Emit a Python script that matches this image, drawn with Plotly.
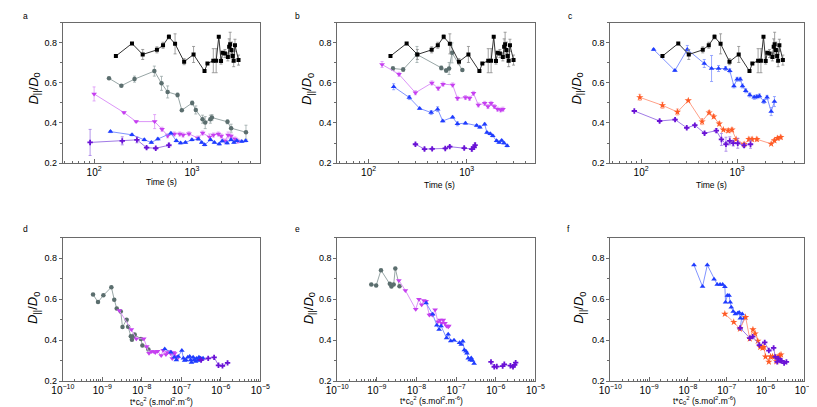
import plotly.graph_objects as go

W, H = 817, 407

# ---------------- top row data: time (s) vs D||/D0 ----------------
# reference (black squares) - identical in panels a, b, c
ref_t = [167, 244, 314, 439, 507, 582, 673, 833, 1040, 1346, 1442, 1655, 1771, 1883, 1986,
         2064, 2177, 2332, 2405, 2461, 2537, 2615, 2676, 2757, 2998]
ref_d = [0.734, 0.797, 0.742, 0.765, 0.788, 0.830, 0.795, 0.706, 0.742, 0.659, 0.697, 0.711,
         0.711, 0.830, 0.709, 0.750, 0.747, 0.730, 0.780, 0.793, 0.764, 0.735, 0.711, 0.788, 0.714]
ref_e = [0.0, 0.005, 0.025, 0.015, 0.015, 0.01, 0.05, 0.015, 0.04, 0.0, 0.0, 0.06, 0.06, 0.0,
         0.015, 0.0, 0.02, 0.02, 0.04, 0.06, 0.04, 0.03, 0.03, 0.03, 0.025]

# panel a
a_gray_t = [142, 190, 259, 413, 489, 565, 714, 789, 1007, 1096, 1285, 1368, 1545, 1603, 2312, 2518, 3573]
a_gray_d = [0.623, 0.586, 0.619, 0.659, 0.598, 0.555, 0.540, 0.464, 0.500, 0.465, 0.419, 0.402,
            0.419, 0.427, 0.406, 0.374, 0.354]
a_gray_e = [0.0, 0.0, 0.015, 0.025, 0.035, 0.03, 0.01, 0.0, 0.01, 0.02, 0.02, 0.03, 0.02, 0.015,
            0.01, 0.02, 0.035]
a_mag_t = [100, 202, 269, 416, 495, 565, 661, 752, 813, 933, 1148, 1288, 1514, 1660, 1862, 1995,
           2188, 2344, 2512, 2754, 2951]
a_mag_d = [0.545, 0.452, 0.407, 0.407, 0.369, 0.336, 0.345, 0.345, 0.340, 0.346, 0.325, 0.350,
           0.330, 0.340, 0.345, 0.335, 0.310, 0.340, 0.335, 0.320, 0.310]
a_mag_e = [0.035, 0.005, 0.005, 0.035, 0.01, 0.01, 0.01, 0.01, 0.01, 0.01, 0.01, 0.01, 0.015,
           0.01, 0.01, 0.01, 0.01, 0.015, 0.01, 0.01, 0.01]
a_blue_t = [147, 244, 326, 385, 449, 610, 693, 766, 859, 1000, 1164, 1259, 1349, 1549, 1698, 1905,
            2042, 2291, 2512, 2692, 2884, 3236, 3548]
a_blue_d = [0.357, 0.341, 0.316, 0.303, 0.320, 0.349, 0.311, 0.300, 0.303, 0.316, 0.320, 0.303,
            0.291, 0.316, 0.303, 0.295, 0.310, 0.300, 0.316, 0.303, 0.311, 0.308, 0.311]
a_blue_e = [0.005] * 23
a_pur_t = [91, 194, 274, 344, 427, 582]
a_pur_d = [0.303, 0.311, 0.316, 0.277, 0.274, 0.289]
a_pur_e = [0.065, 0.02, 0.015, 0.005, 0.005, 0.01]

# panel b
b_gray_t = [177, 225, 311, 550, 617, 661, 708, 902]
b_gray_d = [0.672, 0.667, 0.742, 0.675, 0.662, 0.672, 0.750, 0.664]
b_gray_e = [0.01, 0.01, 0.04, 0.01, 0.01, 0.03, 0.05, 0.005]
b_mag_t = [137, 204, 300, 441, 512, 573, 718, 804, 970, 1069, 1172, 1312, 1524, 1644, 1770, 1910,
           2061, 2218, 2339]
b_mag_d = [0.692, 0.643, 0.551, 0.600, 0.573, 0.594, 0.590, 0.523, 0.527, 0.523, 0.548, 0.490,
           0.498, 0.482, 0.498, 0.482, 0.469, 0.465, 0.469]
b_mag_e = [0.015] + [0.01] * 18
b_blue_t = [180, 260, 331, 434, 505, 569, 718, 804, 970, 1262, 1361, 1524, 1607, 1734, 1841, 2014,
            2138, 2270, 2393, 2582]
b_blue_d = [0.581, 0.527, 0.473, 0.452, 0.469, 0.410, 0.429, 0.396, 0.399, 0.387, 0.379, 0.394,
            0.352, 0.346, 0.336, 0.311, 0.303, 0.313, 0.300, 0.286]
b_blue_e = [0.015, 0.01, 0.005, 0.01, 0.012, 0.005, 0.005, 0.01, 0.005, 0.005, 0.005, 0.005,
            0.005, 0.005, 0.005, 0.005, 0.005, 0.005, 0.005, 0.005]
b_pur_t = [300, 371, 444, 604, 671, 942, 1127, 1189, 1216]
b_pur_d = [0.294, 0.270, 0.271, 0.273, 0.282, 0.275, 0.270, 0.279, 0.290]
b_pur_e = [0.005, 0.005, 0.005, 0.005, 0.005, 0.005, 0.01, 0.01, 0.01]

# panel c
c_blue_t = [135, 225, 303, 455, 542, 641, 759, 839, 927, 1000, 1079, 1138, 1230, 1358, 1510, 1607,
            1710, 1901, 2051, 2265, 2449]
c_blue_d = [0.767, 0.662, 0.767, 0.697, 0.672, 0.672, 0.672, 0.661, 0.585, 0.618, 0.618, 0.585,
            0.561, 0.540, 0.528, 0.531, 0.535, 0.507, 0.528, 0.457, 0.507]
c_blue_e = [0.005, 0.005, 0.02, 0.02, 0.065, 0.015, 0.01, 0.01, 0.01, 0.01, 0.01, 0.01, 0.01,
            0.01, 0.01, 0.01, 0.01, 0.01, 0.01, 0.02, 0.025]
c_orng_t = [97, 167, 239, 310, 432, 511, 571, 652, 719, 807, 885, 977, 1183, 1327, 1432, 1607,
            2265, 2449, 2642, 2851]
c_orng_d = [0.528, 0.488, 0.455, 0.512, 0.407, 0.452, 0.432, 0.396, 0.366, 0.362, 0.366, 0.319,
            0.294, 0.319, 0.319, 0.319, 0.296, 0.313, 0.324, 0.329]
c_orng_e = [0.015, 0.015, 0.015, 0.0, 0.015, 0.01, 0.01, 0.01, 0.0, 0.01, 0.01, 0.0, 0.01, 0.01,
            0.01, 0.01, 0.0, 0.01, 0.01, 0.01]
c_pur_t = [85, 156, 226, 299, 363, 458, 608, 687, 766, 839, 912, 1016, 1183, 1380]
c_pur_d = [0.460, 0.410, 0.417, 0.376, 0.389, 0.349, 0.362, 0.318, 0.294, 0.311, 0.300, 0.299,
           0.288, 0.294]
c_pur_e = [0.0, 0.005, 0.005, 0.005, 0.005, 0.005, 0.01, 0.03, 0.035, 0.02, 0.015, 0.025, 0.01, 0.02]

# ---------------- bottom row data: t*c0^2 vs D||/D0 ----------------
d_gray_x = [5.82e-10, 7.78e-10, 1.064e-9, 1.694e-9, 2.004e-9, 2.317e-9, 2.931e-9, 3.236e-9,
            4.13e-9, 4.50e-9, 5.27e-9, 5.61e-9, 6.34e-9, 6.58e-9, 9.48e-9, 1.033e-8, 1.466e-8]
d_mag_x = [2.69e-9, 5.43e-9, 7.24e-9, 1.12e-8, 1.33e-8, 1.52e-8, 1.78e-8, 2.02e-8, 2.19e-8,
           2.51e-8, 3.09e-8, 3.47e-8, 4.07e-8, 4.47e-8, 5.01e-8, 5.37e-8, 5.89e-8, 6.31e-8,
           6.76e-8, 7.41e-8, 7.94e-8]
d_blue_x = [3.80e-8, 5.43e-8, 6.65e-8, 7.48e-8, 8.34e-8, 1.03e-7, 1.13e-7, 1.21e-7, 1.31e-7,
            1.46e-7, 1.63e-7, 1.72e-7, 1.80e-7, 1.99e-7, 2.12e-7, 2.30e-7, 2.41e-7, 2.61e-7,
            2.79e-7, 2.92e-7, 3.07e-7, 3.33e-7, 3.55e-7]
d_pur_x = [3.16e-7, 4.79e-7, 6.76e-7, 8.71e-7, 1.10e-6, 1.48e-6]

e_gray_x = [7.23e-10, 9.59e-10, 1.27e-9, 2.12e-9, 2.33e-9, 2.65e-9, 2.92e-9, 3.72e-9]
e_mag_x = [3.59e-9, 5.24e-9, 9.55e-9, 1.15e-8, 1.35e-8, 1.53e-8, 1.74e-8, 2.11e-8, 2.34e-8,
           2.55e-8, 2.95e-8, 3.44e-8, 3.93e-8, 4.32e-8, 4.74e-8, 5.21e-8, 5.73e-8, 6.31e-8, 6.53e-8]
e_blue_x = [1.75e-8, 2.55e-8, 3.25e-8, 3.72e-8, 4.16e-8, 5.73e-8, 6.30e-8, 7.31e-8, 8.83e-8,
            1.22e-7, 1.34e-7, 1.47e-7, 1.61e-7, 1.77e-7, 1.87e-7, 2.02e-7, 2.26e-7, 2.40e-7,
            2.58e-7, 2.84e-7]
e_pur_x = [7.57e-7, 9.14e-7, 1.06e-6, 1.49e-6, 1.64e-6, 2.34e-6, 2.72e-6, 2.99e-6, 3.17e-6]

f_blue_x = [1.43e-8, 2.38e-8, 3.16e-8, 4.71e-8, 5.69e-8, 6.75e-8, 7.85e-8, 8.95e-8, 9.33e-8,
            1.04e-7, 1.15e-7, 1.23e-7, 1.31e-7, 1.47e-7, 1.67e-7, 1.91e-7, 2.09e-7, 2.24e-7,
            2.51e-7, 2.22e-7, 2.82e-7]
f_orng_x = [8.95e-8, 1.52e-7, 2.19e-7, 3.07e-7, 3.93e-7, 4.74e-7, 5.42e-7, 6.31e-7, 7.33e-7,
            8.38e-7, 9.12e-7, 1.0e-6, 1.22e-6, 1.35e-6, 1.51e-6, 1.70e-6, 1.91e-6, 2.09e-6,
            2.29e-6, 2.51e-6]
f_pur_x = [2.22e-7, 3.93e-7, 4.68e-7, 6.93e-7, 9.55e-7, 1.22e-6, 1.62e-6, 1.79e-6, 2.0e-6,
           2.16e-6, 2.40e-6, 2.61e-6, 3.02e-6, 3.46e-6]

panel_letters = ["a", "b", "c", "d", "e", "f"]
y_ticks = [0.2, 0.4, 0.6, 0.8]

# ---------------- styles ----------------
STY = {
    "black": dict(symbol="square", color="#000000", line="#333333", err="#8a8a8a", size=4),
    "gray": dict(symbol="circle", color="#5b6e6e", line="#98a6a6", err="#9aa8a8", size=4.5),
    "mag": dict(symbol="triangle-down", color="#c63ff0", line="#dc95f8", err="#dc95f8", size=5),
    "blue": dict(symbol="triangle-up", color="#1f3cff", line="#8194ff", err="#8194ff", size=5),
    "purple": dict(symbol="cross", color="#6a12d6", line="#a17be6", err="#a17be6", size=4.5),
    "orange": dict(symbol="star", color="#ff5a24", line="#ffa088", err="#ffa088", size=5.5),
}

fig = go.Figure()


def add(x, y, style, k, err=None):
    s = STY[style]
    tr = dict(
        x=x, y=y, mode="lines+markers",
        line=dict(color=s["line"], width=1),
        marker=dict(symbol=s["symbol"], color=s["color"], size=s["size"], line=dict(width=0)),
        xaxis="x" if k == 1 else f"x{k}", yaxis="y" if k == 1 else f"y{k}",
        showlegend=False, hoverinfo="skip",
    )
    if err is not None:
        tr["error_y"] = dict(type="data", array=err, visible=True, color=s["err"],
                             thickness=0.8, width=1.5)
    fig.add_trace(go.Scatter(**tr))


# panel a
add(a_gray_t, a_gray_d, "gray", 1, a_gray_e)
add(a_mag_t, a_mag_d, "mag", 1, a_mag_e)
add(a_blue_t, a_blue_d, "blue", 1, a_blue_e)
add(a_pur_t, a_pur_d, "purple", 1, a_pur_e)
add(ref_t, ref_d, "black", 1, ref_e)
# panel b
add(b_gray_t, b_gray_d, "gray", 2, b_gray_e)
add(b_mag_t, b_mag_d, "mag", 2, b_mag_e)
add(b_blue_t, b_blue_d, "blue", 2, b_blue_e)
add(b_pur_t, b_pur_d, "purple", 2, b_pur_e)
add(ref_t, ref_d, "black", 2, ref_e)
# panel c
add(c_blue_t, c_blue_d, "blue", 3, c_blue_e)
add(c_orng_t, c_orng_d, "orange", 3, c_orng_e)
add(c_pur_t, c_pur_d, "purple", 3, c_pur_e)
add(ref_t, ref_d, "black", 3, ref_e)
# panel d
add(d_gray_x, a_gray_d, "gray", 4)
add(d_mag_x, a_mag_d, "mag", 4)
add(d_blue_x, a_blue_d, "blue", 4)
add(d_pur_x, a_pur_d, "purple", 4)
# panel e
add(e_gray_x, b_gray_d, "gray", 5)
add(e_mag_x, b_mag_d, "mag", 5)
add(e_blue_x, b_blue_d, "blue", 5)
add(e_pur_x, b_pur_d, "purple", 5)
# panel f
add(f_blue_x, c_blue_d, "blue", 6)
add(f_orng_x, c_orng_d, "orange", 6)
add(f_pur_x, c_pur_d, "purple", 6)

# ---------------- layout ----------------
FONT = "Liberation Sans, Arial, sans-serif"
col_px = [(44, 247), (326, 529.7), (606.7, 806)]
row_px = [(15, 157), (232.7, 377.7)]


def xdom(c):
    return [col_px[c][0] / W, col_px[c][1] / W]


def ydom(r):
    return [1 - row_px[r][1] / H, 1 - row_px[r][0] / H]


layout = dict(
    width=W, height=H, margin=dict(l=0, r=0, t=0, b=0),
    paper_bgcolor="white", plot_bgcolor="white",
    font=dict(family=FONT, size=9, color="black"),
)
for k in range(1, 7):
    r = 0 if k <= 3 else 1
    c = (k - 1) % 3
    xa = "xaxis" if k == 1 else f"xaxis{k}"
    ya = "yaxis" if k == 1 else f"yaxis{k}"
    xr = [1.68, 3.7] if r == 0 else [-10, -5]
    layout[xa] = dict(
        domain=xdom(c), anchor="y" if k == 1 else f"y{k}", type="log", range=xr, dtick=1,
        exponentformat="power", showline=True, mirror=True, linecolor="#6a6a6a", linewidth=1,
        showgrid=False, zeroline=False, ticks="inside", ticklen=4, tickcolor="#6a6a6a",
        tickfont=dict(size=8, family=FONT, color="black"),
        minor=dict(ticks="inside", ticklen=2, tickcolor="#6a6a6a", showgrid=False),
    )
    layout[ya] = dict(
        domain=ydom(r), anchor="x" if k == 1 else f"x{k}", range=[0.2, 0.9],
        tickvals=y_ticks, tickformat=".1f", showline=True, mirror=True, linecolor="#6a6a6a",
        linewidth=1, showgrid=False, zeroline=False, ticks="outside", ticklen=3,
        tickcolor="#6a6a6a", tickfont=dict(size=9, family=FONT, color="black"),
        minor=dict(dtick=0.1, tick0=0.2, ticks="outside", ticklen=2, tickcolor="#6a6a6a"),
    )

ann = []
letter_px = [(1, 1), (281, 1), (561, 1), (1, 217), (281, 217), (560, 217)]
for lt, (px, py) in zip(panel_letters, letter_px):
    ann.append(dict(x=px / W, y=1 - py / H, xref="paper", yref="paper", text=lt,
                    showarrow=False, xanchor="left", yanchor="top",
                    font=dict(size=8.5, family=FONT, color="black")))

ytitle = "<i>D</i><sub>||</sub>/<i>D</i><sub>0</sub>"
ytitle_px = [(15, 82), (296, 82), (573, 82), (14, 304), (297, 304), (575, 304)]
for px, py in ytitle_px:
    ann.append(dict(x=px / W, y=1 - py / H, xref="paper", yref="paper", text=ytitle,
                    showarrow=False, textangle=-90, xanchor="center", yanchor="middle",
                    font=dict(size=13, family=FONT, color="black")))

xt_top = "Time (s)"
xt_bot = "t*c<sub>0</sub><sup>2</sup> (s.mol<sup>2</sup>.m<sup>-6</sup>)"
xtitle_px = [(145, 176, xt_top), (431, 179, xt_top), (711, 179, xt_top),
             (145, 398, xt_bot), (423, 397, xt_bot), (703, 397, xt_bot)]
for px, py, t in xtitle_px:
    ann.append(dict(x=px / W, y=1 - py / H, xref="paper", yref="paper", text=t,
                    showarrow=False, xanchor="center", yanchor="middle",
                    font=dict(size=8.5, family=FONT, color="black")))

layout["annotations"] = ann
fig.update_layout(**layout)

fig.write_html("out.html")
